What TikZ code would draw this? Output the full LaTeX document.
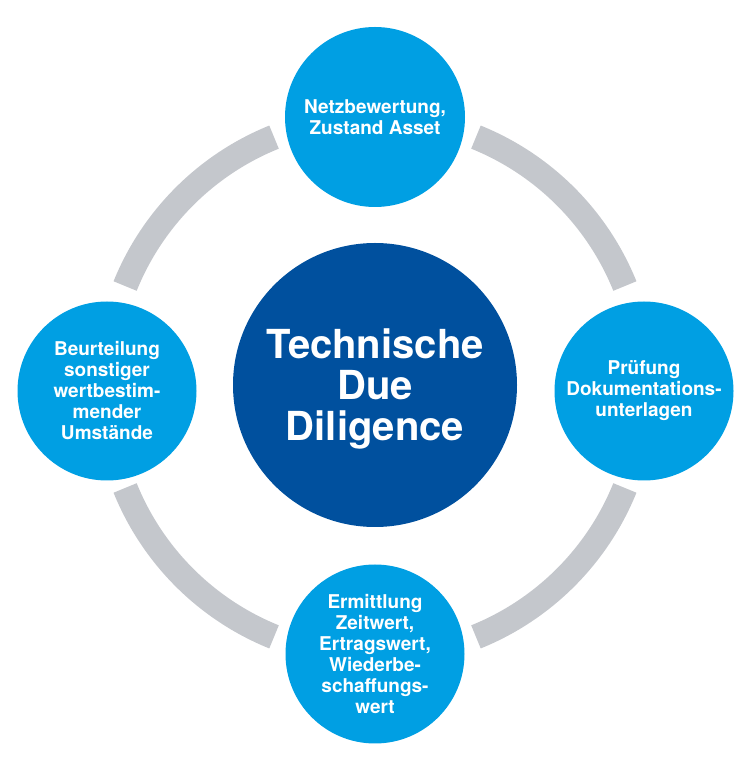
\documentclass[tikz,border=0pt]{standalone}
\usepackage{fontspec}
\setmainfont{TeX Gyre Heros}
\usepackage{xcolor}
\usetikzlibrary{positioning}
\definecolor{tddlight}{HTML}{009FE3}
\definecolor{tdddark}{HTML}{00509E}
\definecolor{tddgray}{HTML}{C4C7CC}
\begin{document}
\begin{tikzpicture}[x=1pt,y=1pt,
  satellite/.style={circle, fill=tddlight, minimum size=179pt, inner sep=0pt,
    text=white, align=center, font=\bfseries\fontsize{19pt}{21pt}\selectfont},
  corebox/.style={circle, fill=tdddark, minimum size=284pt, inner sep=0pt,
    text=white, align=center, text depth=0pt, font=\bfseries\fontsize{40pt}{41pt}\selectfont},
  ringarc/.style={draw=tddgray, line width=25pt}]
\useasboundingbox (0,0) rectangle (750,782);
% grey ring, cut at the four satellites
\coordinate (ring) at (375,395);
\foreach \a in {0,90,180,270}
  \draw[ringarc] ([shift={(\a+22:269.5pt)}]ring) arc[start angle=\a+22, end angle=\a+68, radius=269.5pt];
% centre
\node[corebox] (core) at (375,397) {Technische\\Due\\Diligence};
% satellites
\node[satellite, minimum size=180pt] (net) at (375,665) {Netzbewertung,\\Zustand Asset};
\node[satellite] (doku) at (644,391) {Prüfung\\Dokumentations-\\unterlagen};
\node[satellite] (wert) at (375,128) {Ermittlung\\Zeitwert,\\Ertragswert,\\Wiederbe-\\schaffungs-\\wert};
\node[satellite] (umst) at (107,391) {Beurteilung\\sonstiger\\wertbestim-\\mender\\Umstände};
\end{tikzpicture}
\end{document}
